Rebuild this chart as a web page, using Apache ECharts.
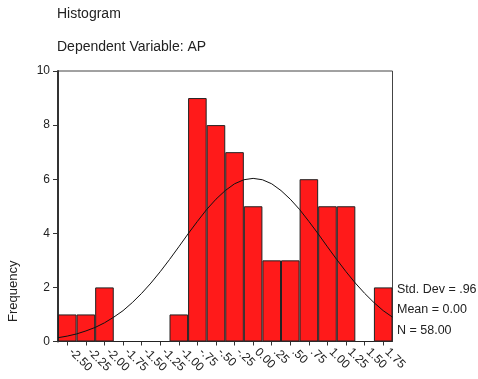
<!DOCTYPE html>
<html><head><meta charset="utf-8">
<script src="https://cdn.jsdelivr.net/npm/echarts@6/dist/echarts.min.js"></script>
<style>html,body{margin:0;padding:0;background:#fff}#c{width:478px;height:379px}</style>
</head><body><div id="c"></div>
<script>
const categories = ['-2.50','-2.25','-2.00','-1.75','-1.50','-1.25','-1.00','-.75','-.50','-.25','0.00','.25','.50','.75','1.00','1.25','1.50','1.75'];
const counts = [1,1,2,0,0,0,1,9,8,7,5,3,3,6,5,5,0,2];
const yTicks = [0,2,4,6,8,10];
// normal curve (x, frequency)
const curveX = [-2.625,-2.5,-2.375,-2.25,-2.125,-2.0,-1.875,-1.75,-1.625,-1.5,-1.375,-1.25,-1.125,-1.0,-0.875,-0.75,-0.625,-0.5,-0.375,-0.25,-0.125,0,0.125,0.25,0.375,0.5,0.625,0.75,0.875,1.0,1.125,1.25,1.375,1.5,1.625,1.75,1.875];
const curveY = [0.14,0.20,0.28,0.39,0.52,0.69,0.90,1.14,1.44,1.78,2.16,2.58,3.03,3.50,3.98,4.44,4.88,5.26,5.58,5.83,5.98,6.03,5.98,5.83,5.58,5.26,4.88,4.44,3.98,3.50,3.03,2.58,2.16,1.78,1.44,1.14,0.90];
const stats = ['Std. Dev = .96','Mean = 0.00','N = 58.00'];

const chart = echarts.init(document.getElementById('c'));
const font = 'Liberation Sans, Arial, sans-serif';
chart.setOption({
  animation:false,
  grid:{left:58,right:85.5,top:71,bottom:37.5,show:true,borderColor:'#444',borderWidth:1,backgroundColor:'#fff'},
  xAxis:[{
    type:'category',data:categories,boundaryGap:true,
    axisLine:{onZero:false,lineStyle:{color:'#333',width:1}},
    axisTick:{show:true,alignWithLabel:true,length:4,lineStyle:{color:'#333'}},
    axisLabel:{rotate:-45,interval:0,color:'#222',fontSize:12,fontFamily:font,margin:5,padding:[0,0,0,5]}
  },{
    type:'value',min:curveX[0],max:curveX[curveX.length-1],show:false
  }],
  yAxis:{
    type:'value',min:yTicks[0],max:yTicks[yTicks.length-1],interval:2,
    splitLine:{show:false},
    axisLine:{show:true,onZero:false,lineStyle:{color:'#333',width:2}},
    axisTick:{show:true,length:5,lineStyle:{color:'#333'}},
    axisLabel:{color:'#222',fontSize:12,fontFamily:font,margin:8}
  },
  series:[{
    type:'bar',data:counts,barWidth:'100%',barCategoryGap:'0%',
    itemStyle:{color:'#ff1a1a',borderColor:'#222',borderWidth:1}
  },{
    type:'line',xAxisIndex:1,data:curveX.map((x,i)=>[x,curveY[i]]),
    showSymbol:false,smooth:false,lineStyle:{color:'#111',width:1},z:5
  }],
  graphic:[
    {type:'text',left:57,top:7,style:{text:'Histogram',font:'14px '+font,fill:'#222'}},
    {type:'text',left:57,top:40,style:{text:'Dependent Variable: AP',font:'14px '+font,fill:'#222'}},
    {type:'text',x:7,y:322,rotation:Math.PI/2,style:{text:'Frequency',font:'13px '+font,fill:'#222'}},
    {type:'text',left:397,top:283,style:{text:stats[0],font:'12.5px '+font,fill:'#222'}},
    {type:'text',left:397,top:303,style:{text:stats[1],font:'12.5px '+font,fill:'#222'}},
    {type:'text',left:397,top:324,style:{text:stats[2],font:'12.5px '+font,fill:'#222'}}
  ]
});
</script></body></html>
